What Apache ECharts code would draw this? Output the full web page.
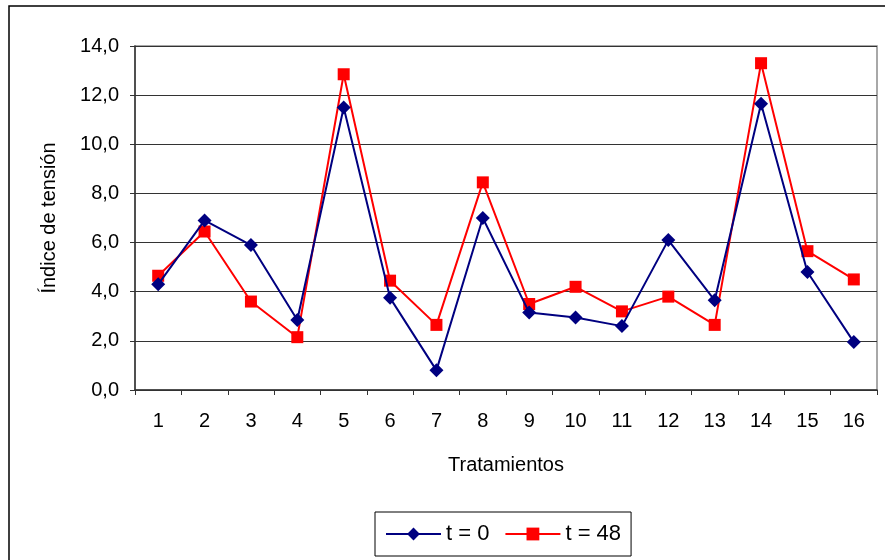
<!DOCTYPE html>
<html>
<head>
<meta charset="utf-8">
<script src="https://cdn.jsdelivr.net/npm/echarts@6/dist/echarts.min.js"></script>
<style>html,body{margin:0;padding:0;background:#fff;}#c{width:885px;height:560px;}</style>
</head>
<body>
<div id="c"></div>
<script>
const categories = ['1','2','3','4','5','6','7','8','9','10','11','12','13','14','15','16'];
const t0 = [4.3, 6.9, 5.9, 2.85, 11.5, 3.75, 0.8, 7.0, 3.15, 2.95, 2.6, 6.1, 3.65, 11.65, 4.8, 1.95];
const t48 = [4.65, 6.45, 3.6, 2.15, 12.85, 4.45, 2.65, 8.45, 3.5, 4.2, 3.2, 3.8, 2.65, 13.3, 5.65, 4.5];
const seriesNames = ['t = 0', 't = 48'];
const yTicks = {min: 0, max: 14, interval: 2};

const chart = echarts.init(document.getElementById('c'));
const font = 'Liberation Sans, Arial, sans-serif';
chart.setOption({
  animation: false,
  graphic: [{
    type: 'rect', shape: {x: 9, y: 6, width: 890, height: 600},
    style: {fill: 'none', stroke: '#000', lineWidth: 1.5}, z: -10
  }],
  grid: {left: 135, right: 8, top: 46, bottom: 170, show: true, borderColor: '#8c8c8c', borderWidth: 1.5, backgroundColor: '#fff'},
  legend: {
    data: seriesNames, left: 375, top: 512, orient: 'horizontal',
    padding: [11, 10, 11, 10], borderColor: '#000', borderWidth: 1, itemGap: 15,
    itemWidth: 55, itemHeight: 16,
    textStyle: {fontFamily: font, fontSize: 22, color: '#000'}
  },
  xAxis: {
    type: 'category', data: categories, boundaryGap: true,
    name: 'Tratamientos', nameLocation: 'middle', nameGap: 65,
    nameTextStyle: {fontFamily: font, fontSize: 20, color: '#000'},
    axisLine: {lineStyle: {color: '#333', width: 1.5}},
    axisTick: {show: true, length: 5, lineStyle: {color: '#333'}},
    axisLabel: {fontFamily: font, fontSize: 20, color: '#000', margin: 21}
  },
  yAxis: {
    type: 'value', min: yTicks.min, max: yTicks.max, interval: yTicks.interval,
    name: 'Índice de tensión', nameLocation: 'middle', nameGap: 76, nameRotate: 90,
    nameTextStyle: {fontFamily: font, fontSize: 20, color: '#000'},
    axisLine: {show: true, lineStyle: {color: '#333', width: 1.5}},
    axisTick: {show: true, length: 5, lineStyle: {color: '#333'}},
    splitLine: {lineStyle: {color: '#333', width: 1}},
    axisLabel: {fontFamily: font, fontSize: 20, color: '#000', margin: 16,
      formatter: v => v.toFixed(1).replace('.', ',')}
  },
  series: [
    {name: seriesNames[0], type: 'line', data: t0, symbol: 'diamond', symbolSize: 14,
      lineStyle: {color: '#000080', width: 2}, itemStyle: {color: '#000080'}, z: 3},
    {name: seriesNames[1], type: 'line', data: t48, symbol: 'rect', symbolSize: 12,
      lineStyle: {color: '#ff0000', width: 2}, itemStyle: {color: '#ff0000'}, z: 2}
  ]
});
</script>
</body>
</html>
